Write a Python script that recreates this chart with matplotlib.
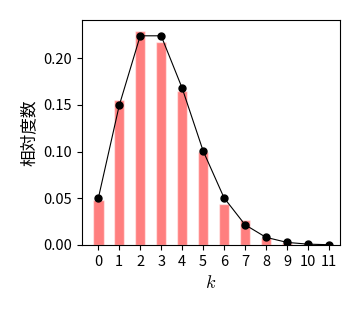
import matplotlib
matplotlib.use("Agg")
import matplotlib.pyplot as plt

plt.rcParams["font.family"] = ["Noto Sans CJK JP", "DejaVu Sans"]
plt.rcParams["mathtext.fontset"] = "cm"

# ---- data ------------------------------------------------------------
k_values = [0, 1, 2, 3, 4, 5, 6, 7, 8, 9, 10, 11]
rel_freq = [0.048, 0.155, 0.229, 0.217, 0.165, 0.099, 0.044, 0.027, 0.0078, 0.002, 0.0008, 0.0]
pmf = [0.0498, 0.1494, 0.2240, 0.2240, 0.1680, 0.1008, 0.0504, 0.0216, 0.0081, 0.0027, 0.0008, 0.0002]
y_ticks = [0.00, 0.05, 0.10, 0.15, 0.20]

fig = plt.figure(figsize=(3.6, 3.1), dpi=100)
ax = fig.add_axes([0.227, 0.21, 0.718, 0.7245])

ax.bar(k_values, rel_freq, width=0.5, color="red", alpha=0.5, edgecolor="white", linewidth=1)
ax.plot(k_values, pmf, color="black", linewidth=0.8, marker="o", markersize=5)

ax.set_xticks(k_values)
ax.set_yticks(y_ticks)
ax.set_yticklabels([f"{v:.2f}" for v in y_ticks])
ax.tick_params(labelsize=10.5)
ax.set_xlim(-0.79, 11.54)
ax.set_ylim(0, 0.2406)
ax.set_xlabel("$k$", fontsize=13)
ax.set_ylabel("相対度数", fontsize=12)

fig.savefig("out.png", dpi=100)
